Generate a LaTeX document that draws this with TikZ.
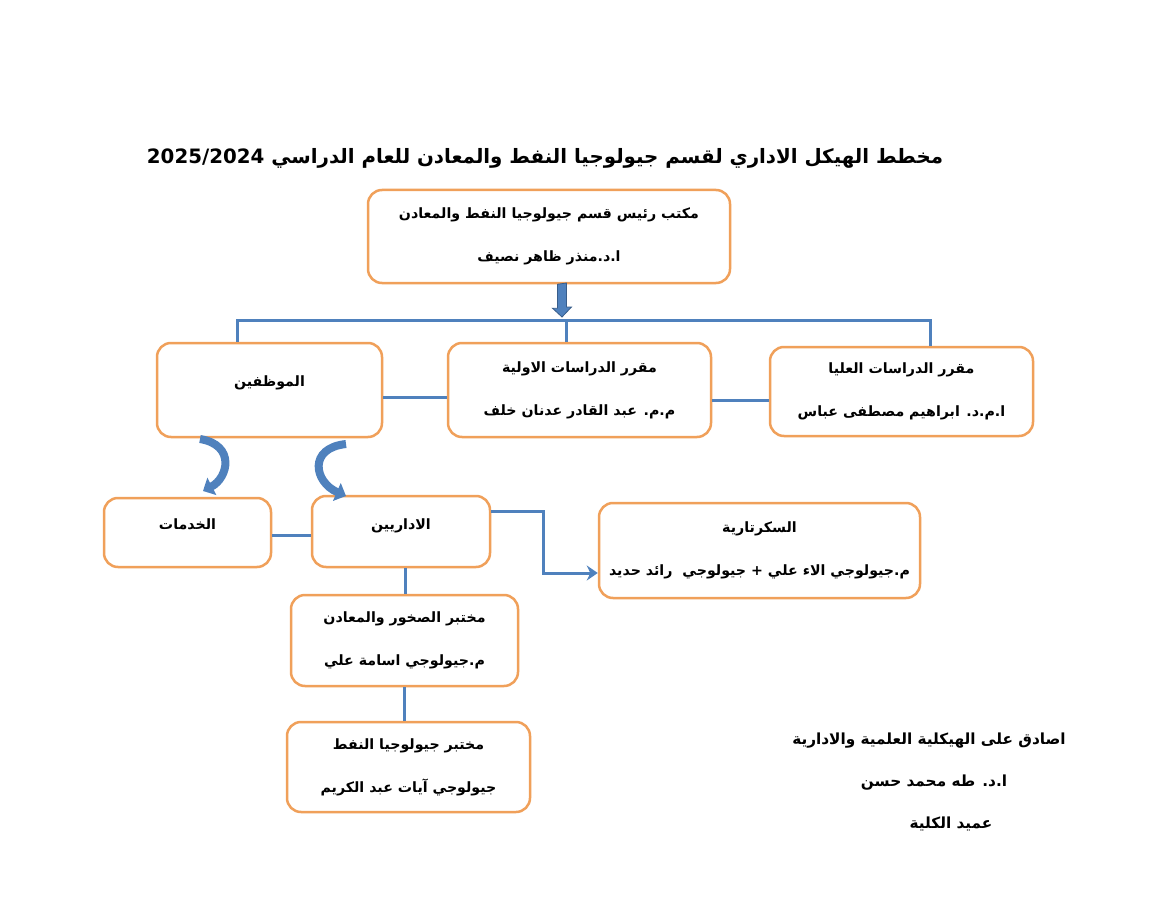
\documentclass[tikz,border=0pt]{standalone}
\usepackage{fontspec}
\newfontfamily\arabicfont[Script=Arabic]{DejaVu Sans}
\TeXXeTstate=1
\usetikzlibrary{arrows.meta}
\definecolor{boxor}{RGB}{240,160,90}
\definecolor{lnblue}{RGB}{79,129,189}
\definecolor{lndark}{RGB}{56,93,138}
\newcommand\ar[1]{\beginR #1\endR}
\begin{document}
\begin{tikzpicture}[x=1pt,y=-1pt,
  orgbox/.style={draw=boxor, line width=2.5pt, rounded corners=14pt, fill=white,
    inner sep=0pt, align=center, font=\arabicfont\bfseries\fontsize{14.2}{43}\selectfont},
  plaintext/.style={inner sep=0pt, font=\arabicfont\bfseries\fontsize{15.3}{18}\selectfont},
  link/.style={draw=lnblue, line width=3pt},
  arrowlink/.style={link, -{Stealth[length=11pt,width=15pt]}},
  curvarrow/.style={draw=lnblue, line width=8pt, -{Triangle[length=10pt,width=19pt]}},
  blockarrow/.style={fill=lnblue, draw=lndark, line width=0.8pt}]
\useasboundingbox (0,0) rectangle (1170,904);
\fill[white] (0,0) rectangle (1170,904);

\node[plaintext, font=\arabicfont\bfseries\fontsize{19.8}{23}\selectfont] (title) at (545,158)
  {\ar{مخطط الهيكل الاداري لقسم جيولوجيا النفط والمعادن للعام الدراسي \beginL 2025/2024\endL}};

\node[orgbox, minimum width=362pt, minimum height=93pt] (head) at (549,236.5)
  {\ar{مكتب رئيس قسم جيولوجيا النفط والمعادن}\\\ar{ا.د.منذر ظاهر نصيف}};

\node[orgbox, minimum width=225pt, minimum height=94pt] (muw) at (269.5,390)
  {\raisebox{17pt}{\ar{الموظفين}}};
\node[orgbox, minimum width=263pt, minimum height=94pt] (awal) at (579.5,390)
  {\ar{مقرر الدراسات الاولية}\\\ar{م.م. عبد القادر عدنان خلف}};
\node[orgbox, minimum width=263pt, minimum height=89pt] (ulya) at (901.5,391.5)
  {\ar{مقرر الدراسات العليا}\\\ar{ا.م.د. ابراهيم مصطفى عباس}};

\node[orgbox, minimum width=167pt, minimum height=69pt] (khad) at (187.5,532.5)
  {\raisebox{16pt}{\ar{الخدمات}}};
\node[orgbox, minimum width=178pt, minimum height=71pt] (idar) at (401,531.5)
  {\raisebox{14pt}{\ar{الاداريين}}};
\node[orgbox, minimum width=321pt, minimum height=95pt] (secr) at (759.5,550.5)
  {\ar{السكرتارية}\\\ar{م.جيولوجي الاء علي + جيولوجي \ رائد حديد}};

\node[orgbox, minimum width=227pt, minimum height=91pt] (lab1) at (404.5,640.5)
  {\ar{مختبر الصخور والمعادن}\\\ar{م.جيولوجي اسامة علي}};
\node[orgbox, minimum width=243pt, minimum height=90pt] (lab2) at (408.5,767)
  {\ar{مختبر جيولوجيا النفط}\\\ar{جيولوجي آيات عبد الكريم}};

\node[plaintext] (sig1) at (929,741) {\ar{اصادق على الهيكلية العلمية والادارية}};
\node[plaintext] (sig2) at (934,783) {\ar{ا.د. طه محمد حسن}};
\node[plaintext] (sig3) at (951,824) {\ar{عميد الكلية}};

% bus
\coordinate (busL) at (237,320);
\coordinate (busM) at (566,320);
\coordinate (busR) at (930,320);
\draw[link] (muw.north -| busL) -- (busL) -- (busR) -- (ulya.north -| busR);
\draw[link] (busM) -- (awal.north -| busM);

% head arrow
\coordinate (ha) at (562,283);
\coordinate (hb) at (562,317);
\path[blockarrow] (head.south -| ha) ++(-4.5,0) -- ++(0,24) -- ++(-5,0) -- (hb) -- ++(9.5,-10) -- ++(-5,0) -- ++(0,-24) -- cycle;

% horizontal links
\coordinate (y1) at (0,397);
\coordinate (y2) at (0,400);
\coordinate (y3) at (0,535);
\draw[link] (muw.east |- y1) -- (awal.west |- y1);
\draw[link] (awal.east |- y2) -- (ulya.west |- y2);
\draw[link] (khad.east |- y3) -- (idar.west |- y3);

% to secretary
\coordinate (s1) at (0,511);
\coordinate (s2) at (543,573);
\draw[arrowlink] (idar.east |- s1) -| (s2) -- (secr.west |- s2);

% labs
\coordinate (vx1) at (405,0);
\coordinate (vx2) at (404,0);
\draw[link] (idar.south -| vx1) -- (lab1.north -| vx1);
\draw[link] (lab1.south -| vx2) -- (lab2.north -| vx2);

% curved arrows
\coordinate (c1a) at (200,439);
\coordinate (c1b) at (203,491);
\coordinate (c2a) at (346,444);
\coordinate (c2b) at (346,496);
\draw[curvarrow] (c1a) .. controls (236,445) and (228,478) .. (c1b);
\draw[curvarrow] (c2a) .. controls (308,448) and (314,482) .. (c2b);
\end{tikzpicture}
\end{document}
